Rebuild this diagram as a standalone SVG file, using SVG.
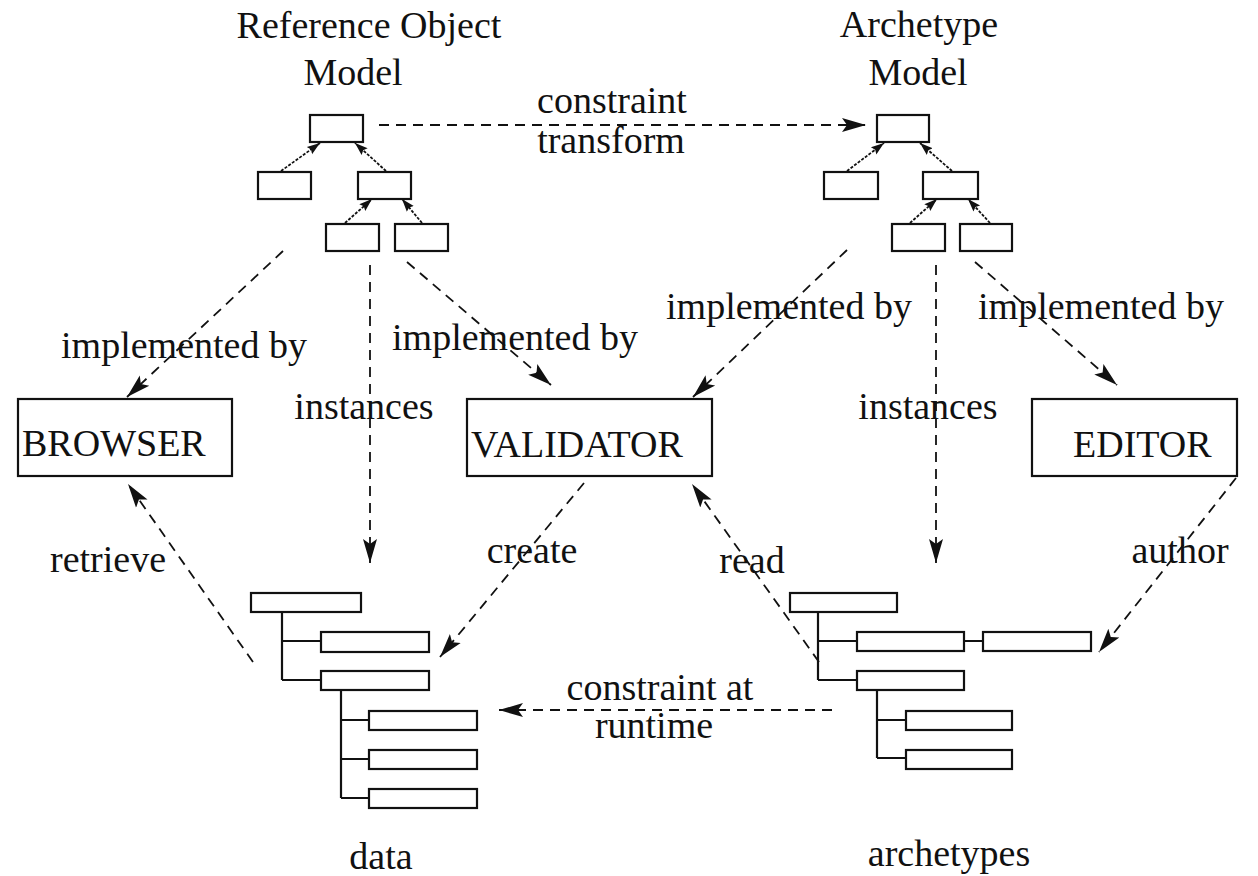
<svg xmlns="http://www.w3.org/2000/svg" width="1258" height="876" viewBox="0 0 1258 876">
<defs>
<style>
.bx{fill:#fff;stroke:#111;stroke-width:2.2}
.tl{fill:none;stroke:#111;stroke-width:2.2}
.dc{fill:none;stroke:#111;stroke-width:1.8;stroke-dasharray:10 7}
.sa{fill:none;stroke:#111;stroke-width:1.8;stroke-dasharray:3 1.5}
text{font-family:"Liberation Serif","Times New Roman",serif;font-size:38px;fill:#111}
.m{text-anchor:middle}
</style>
<marker id="ah" markerUnits="userSpaceOnUse" markerWidth="28" markerHeight="18" refX="24" refY="8" orient="auto">
<path d="M0,1 L24,8 L0,15 L5,8 z" fill="#111"/>
</marker>
<marker id="sh" markerUnits="userSpaceOnUse" markerWidth="16" markerHeight="12" refX="13" refY="5.5" orient="auto">
<path d="M0,1 L13,5.5 L0,10 L2,5.5 z" fill="#111"/>
</marker>
</defs>
<rect width="1258" height="876" fill="#fff"/>

<g id="labels-top">
<text class="m" x="369" y="38">Reference Object</text>
<text class="m" x="353" y="85">Model</text>
<text class="m" x="919" y="37">Archetype</text>
<text class="m" x="918" y="85">Model</text>
</g>

<g id="rom-tree">
<rect class="bx" x="310" y="115" width="53" height="27"/>
<rect class="bx" x="258" y="172" width="53" height="27"/>
<rect class="bx" x="358" y="172" width="53" height="27"/>
<rect class="bx" x="326" y="224" width="53" height="27"/>
<rect class="bx" x="395" y="224" width="53" height="27"/>
<line class="sa" x1="281" y1="171" x2="320" y2="143" marker-end="url(#sh)"/>
<line class="sa" x1="386" y1="171" x2="355" y2="143" marker-end="url(#sh)"/>
<line class="sa" x1="345" y1="223" x2="372" y2="199" marker-end="url(#sh)"/>
<line class="sa" x1="422" y1="223" x2="402" y2="199" marker-end="url(#sh)"/>
</g>

<g id="am-tree">
<rect class="bx" x="877" y="115" width="52" height="27"/>
<rect class="bx" x="824" y="172" width="54" height="27"/>
<rect class="bx" x="923" y="172" width="55" height="27"/>
<rect class="bx" x="892" y="224" width="53" height="27"/>
<rect class="bx" x="960" y="224" width="52" height="27"/>
<line class="sa" x1="847" y1="171" x2="884" y2="143" marker-end="url(#sh)"/>
<line class="sa" x1="952" y1="171" x2="920" y2="143" marker-end="url(#sh)"/>
<line class="sa" x1="910" y1="223" x2="937" y2="199" marker-end="url(#sh)"/>
<line class="sa" x1="990" y1="223" x2="968" y2="199" marker-end="url(#sh)"/>
</g>

<g id="browser">
<rect class="bx" x="18" y="399" width="214" height="77"/>
<text x="22" y="456">BROWSER</text>
</g>
<g id="validator">
<rect class="bx" x="467" y="399" width="245" height="77"/>
<text x="471" y="457">VALIDATOR</text>
</g>
<g id="editor">
<rect class="bx" x="1032" y="399" width="205" height="77"/>
<text x="1073" y="457">EDITOR</text>
</g>

<g id="data-tree">
<path class="tl" d="M282,612 V680 M282,641 H321 M282,680 H321 M341,690 V798 M341,720 H369 M341,759 H369 M341,798 H369"/>
<rect class="bx" x="251" y="593" width="110" height="19"/>
<rect class="bx" x="321" y="632" width="108" height="20"/>
<rect class="bx" x="321" y="671" width="108" height="19"/>
<rect class="bx" x="369" y="711" width="108" height="19"/>
<rect class="bx" x="369" y="750" width="108" height="19"/>
<rect class="bx" x="369" y="789" width="108" height="19"/>
<text class="m" x="381" y="869">data</text>
</g>

<g id="archetypes-tree">
<path class="tl" d="M818,612 V680 M818,641 H857 M818,680 H857 M964,641 H983 M877,690 V758 M877,720 H906 M877,758 H906"/>
<rect class="bx" x="790" y="593" width="107" height="19"/>
<rect class="bx" x="857" y="632" width="107" height="19"/>
<rect class="bx" x="983" y="632" width="108" height="19"/>
<rect class="bx" x="857" y="671" width="107" height="19"/>
<rect class="bx" x="906" y="711" width="106" height="19"/>
<rect class="bx" x="906" y="750" width="106" height="19"/>
<text class="m" x="949" y="866">archetypes</text>
</g>

<g id="connectors">
<line class="dc" x1="379" y1="125" x2="866" y2="125" marker-end="url(#ah)"/>
<line class="dc" x1="283" y1="251" x2="127" y2="397" marker-end="url(#ah)"/>
<line class="dc" x1="370" y1="265" x2="370" y2="563" marker-end="url(#ah)"/>
<line class="dc" x1="407" y1="262" x2="551" y2="385" marker-end="url(#ah)"/>
<line class="dc" x1="847" y1="250" x2="693" y2="397" marker-end="url(#ah)"/>
<line class="dc" x1="936" y1="265" x2="936" y2="563" marker-end="url(#ah)"/>
<line class="dc" x1="975" y1="262" x2="1117" y2="385" marker-end="url(#ah)"/>
<line class="dc" x1="253" y1="662" x2="128" y2="484" marker-end="url(#ah)"/>
<line class="dc" x1="584" y1="483" x2="440" y2="657" marker-end="url(#ah)"/>
<line class="dc" x1="819" y1="662" x2="692" y2="484" marker-end="url(#ah)"/>
<line class="dc" x1="1236" y1="478" x2="1099" y2="652" marker-end="url(#ah)"/>
<line class="dc" x1="832" y1="710" x2="499" y2="710" marker-end="url(#ah)"/>
</g>

<g id="connector-labels">
<text class="m" x="612" y="113">constraint</text>
<text class="m" x="611" y="153">transform</text>
<text class="m" x="184" y="358">implemented by</text>
<text class="m" x="515" y="350">implemented by</text>
<text class="m" x="789" y="319">implemented by</text>
<text class="m" x="1101" y="319">implemented by</text>
<text class="m" x="364" y="419">instances</text>
<text class="m" x="928" y="419">instances</text>
<text class="m" x="108" y="572">retrieve</text>
<text class="m" x="532" y="563">create</text>
<text class="m" x="752" y="573">read</text>
<text class="m" x="1180" y="563">author</text>
<text class="m" x="660" y="700">constraint at</text>
<text class="m" x="654" y="738">runtime</text>
</g>
</svg>
